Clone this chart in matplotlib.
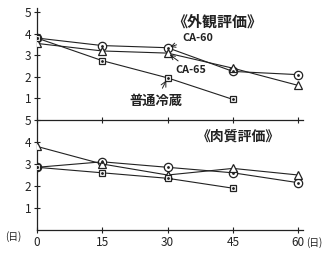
import matplotlib.pyplot as plt

plt.rcParams['font.family'] = ['Noto Sans CJK JP', 'DejaVu Sans']

days = [0, 15, 30, 45, 60]
days_normal = [0, 15, 30, 45]

# appearance score (top panel)
look_ca60 = [3.8, 3.45, 3.35, 2.25, 2.1]
look_ca65 = [3.55, 3.2, 3.1, 2.4, 1.6]
look_normal = [3.8, 2.75, 1.95, 0.95]

# meat quality score (bottom panel)
meat_ca60 = [2.85, 3.1, 2.85, 2.6, 2.15]
meat_ca65 = [3.8, 3.0, 2.5, 2.8, 2.5]
meat_normal = [2.85, 2.6, 2.35, 1.9]

y_ticks = [1, 2, 3, 4, 5]
x_ticks = [0, 15, 30, 45, 60]

ink = '#222222'

fig = plt.figure(figsize=(3.24, 2.54), dpi=100)
fig.patch.set_facecolor('white')
ax1 = fig.add_axes([0.114, 0.528, 0.82, 0.441])
ax2 = fig.add_axes([0.114, 0.0945, 0.82, 0.433])


def draw_series(ax, x, y, marker, size):
    ax.plot(x, y, color=ink, lw=0.8, marker=marker, ms=size, mfc='white',
            mec=ink, mew=0.9, zorder=3)
    if marker in ('o', 's'):
        ax.plot(x, y, ls='none', marker='.', ms=2, color=ink, zorder=4)


for ax in (ax1, ax2):
    for s in ('top', 'right'):
        ax.spines[s].set_visible(False)
    ax.spines['left'].set_color(ink)
    ax.spines['bottom'].set_color(ink)
    ax.spines['left'].set_linewidth(0.9)
    ax.spines['bottom'].set_linewidth(0.9)
    ax.set_xlim(0, 61)
    ax.set_xticks(x_ticks)
    ax.set_yticks(y_ticks)
    ax.tick_params(direction='inout', length=4, width=0.8, color=ink,
                   labelsize=8.5, labelcolor=ink, pad=2)
    ax.set_facecolor('none')

ax1.set_ylim(0, 5.2)
ax2.set_ylim(0, 5.0)
ax1.tick_params(axis='x', labelbottom=False)

draw_series(ax1, days, look_ca60, 'o', 6)
draw_series(ax1, days, look_ca65, '^', 5.5)
draw_series(ax1, days_normal, look_normal, 's', 5)

draw_series(ax2, days, meat_ca60, 'o', 6)
draw_series(ax2, days, meat_ca65, '^', 5.5)
draw_series(ax2, days_normal, meat_normal, 's', 5)

ax1.text(0.51, 0.875, '《外観評価》', transform=ax1.transAxes, fontsize=10.8,
         color=ink, ha='left', va='center', fontweight='bold')
ax2.text(0.6, 0.845, '《肉質評価》', transform=ax2.transAxes, fontsize=10,
         color=ink, ha='left', va='center', fontweight='bold')

arrow = dict(arrowstyle='->', color=ink, lw=0.7)
ax1.annotate('CA-60', xy=(days[2], look_ca60[2]), xytext=(33.3, 3.8),
             fontsize=7.8, color=ink, arrowprops=arrow, va='center',
             fontweight='bold')
ax1.annotate('CA-65', xy=(days[2], look_ca65[2]), xytext=(31.8, 2.3),
             fontsize=7.8, color=ink, arrowprops=arrow, va='center',
             fontweight='bold')
ax1.annotate('普通冷蔵', xy=(days_normal[2], look_normal[2]), xytext=(21.3, 0.9),
             fontsize=9.5, color=ink, arrowprops=arrow, va='center',
             fontweight='bold')

fig.text(0.015, 0.068, '(日)', fontsize=7, color=ink, va='center')
fig.text(0.945, 0.045, '(日)', fontsize=7, color=ink, va='center')

fig.savefig('out.png', dpi=100, facecolor='white')
